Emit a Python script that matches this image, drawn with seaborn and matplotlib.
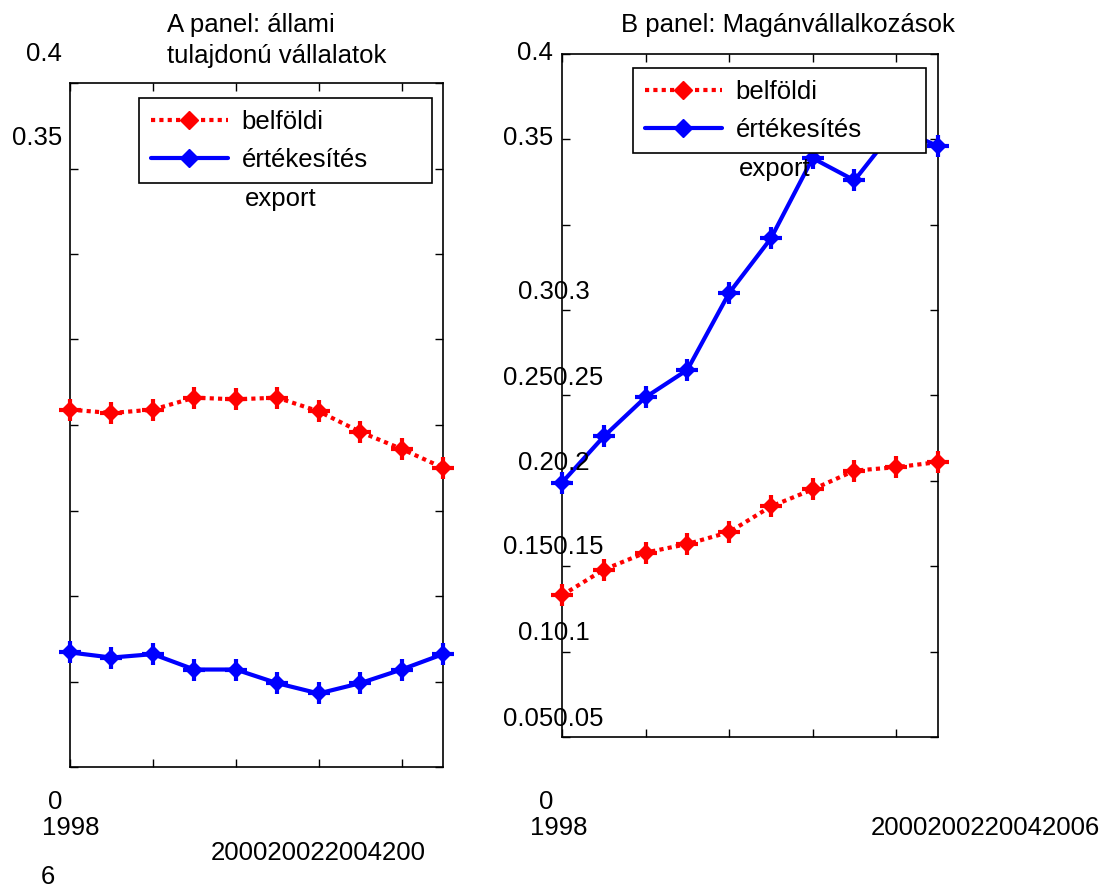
import numpy as np
import pandas as pd
import matplotlib
matplotlib.use("Agg")
import matplotlib.pyplot as plt
import seaborn as sns
from matplotlib.lines import Line2D

# adatok
years = [1998, 1999, 2000, 2001, 2002, 2003, 2004, 2005, 2006, 2007]
a_belfoldi = [0.209, 0.207, 0.209, 0.216, 0.215, 0.216, 0.208, 0.196, 0.186, 0.175]
a_export = [0.067, 0.064, 0.066, 0.057, 0.057, 0.049, 0.043, 0.049, 0.057, 0.066]
b_belfoldi = [0.083, 0.098, 0.108, 0.113, 0.120, 0.135, 0.145, 0.156, 0.158, 0.161]
b_export = [0.149, 0.176, 0.199, 0.215, 0.260, 0.292, 0.339, 0.326, 0.357, 0.346]
series_labels = ["belföldi", "értékesítés"]
x_ticks = [1998, 2000, 2002, 2004, 2006]
y_ticks = [0, 0.05, 0.1, 0.15, 0.2, 0.25, 0.3, 0.35, 0.4]

sns.set_theme(style="white")
plt.rcParams["font.family"] = ["Liberation Sans", "DejaVu Sans"]
plt.rcParams["text.color"] = "black"
FS = 18.5
W, H = 1108, 888

fig = plt.figure(figsize=(W / 100, H / 100), dpi=100)


def px_axes(l, t, r, b):
    return fig.add_axes([l / W, 1 - b / H, (r - l) / W, (b - t) / H])


def ftext(x, y, s, **kw):
    fig.text(x / W, 1 - y / H, s, fontsize=FS, va="center", color="black", **kw)


def draw_panel(ax, belf, exp):
    df = pd.DataFrame({"ev": years, "belf": belf, "exp": exp})
    sns.lineplot(data=df, x="ev", y="belf", ax=ax, color="red", lw=3,
                 linestyle=(0, (1, 1)), marker="D", markersize=9,
                 markeredgewidth=0)
    sns.lineplot(data=df, x="ev", y="exp", ax=ax, color="blue", lw=3,
                 marker="D", markersize=9, markeredgewidth=0)
    # MATLAB-szerű csillagos jelölő: rombusz + kereszt
    sns.scatterplot(data=df, x="ev", y="belf", ax=ax, color="red",
                    marker="+", s=260, linewidth=3, zorder=5)
    sns.scatterplot(data=df, x="ev", y="exp", ax=ax, color="blue",
                    marker="+", s=260, linewidth=3, zorder=5)
    ax.set_xlim(1998, 2007)
    ax.set_ylim(0, 0.4)
    ax.set_xticks(x_ticks)
    ax.set_yticks(y_ticks)
    ax.tick_params(direction="in", length=6, width=1, color="black",
                   top=True, right=True, left=True, bottom=True,
                   labelleft=False, labelbottom=False)
    ax.set_xlabel("")
    ax.set_ylabel("")
    for sp in ax.spines.values():
        sp.set_color("black")
        sp.set_linewidth(1.2)
    ax.grid(False)
    for c in ax.collections:
        c.set_clip_on(False)
    for ln in ax.lines:
        ln.set_clip_on(False)


def draw_legend(ax, l, t, r, b):
    handles = [
        Line2D([], [], color="red", lw=3, linestyle=(0, (1, 1)),
               marker="D", markersize=9),
        Line2D([], [], color="blue", lw=3, marker="D", markersize=9),
    ]
    leg = ax.legend(handles, series_labels, loc="upper left",
                    bbox_to_anchor=((l) / W, 1 - t / H, (r - l) / W, 0),
                    bbox_transform=fig.transFigure, mode="expand",
                    fontsize=FS, frameon=True, fancybox=False,
                    edgecolor="black", framealpha=1, borderpad=0.45,
                    labelspacing=0.55, handlelength=3.0, handletextpad=0.55,
                    borderaxespad=0)
    leg.get_frame().set_linewidth(1.2)
    leg.set_zorder(10)


# A panel
ax_a = px_axes(70, 83, 443, 767)
draw_panel(ax_a, a_belfoldi, a_export)
draw_legend(ax_a, 139, 98, 432, 181)
ftext(245, 199, "export")
ftext(167, 25, "A panel: állami")
ftext(167, 56, "tulajdonú vállalatok")
ftext(62, 54, "0.4", ha="right")
ftext(62, 138, "0.35", ha="right")
ftext(55, 802, "0", ha="center")
ftext(71, 828, "1998", ha="center")
ftext(318, 853, "200020022004200", ha="center")
ftext(48, 877, "6", ha="center")

# B panel
ax_b = px_axes(562, 54, 938, 737)
draw_panel(ax_b, b_belfoldi, b_export)
draw_legend(ax_b, 633, 68, 926, 153)
ftext(739, 169, "export")
ftext(788, 25, "B panel: Magánvállalkozások", ha="center")
ftext(553, 53, "0.4", ha="right")
ftext(553, 138, "0.35", ha="right")
ftext(518, 292, "0.30.3")
ftext(503, 378, "0.250.25")
ftext(518, 463, "0.20.2")
ftext(503, 547, "0.150.15")
ftext(518, 633, "0.10.1")
ftext(503, 719, "0.050.05")
ftext(546, 802, "0", ha="center")
ftext(559, 828, "1998", ha="center")
ftext(985, 828, "2000200220042006", ha="center")

fig.savefig("out.png", dpi=100)
